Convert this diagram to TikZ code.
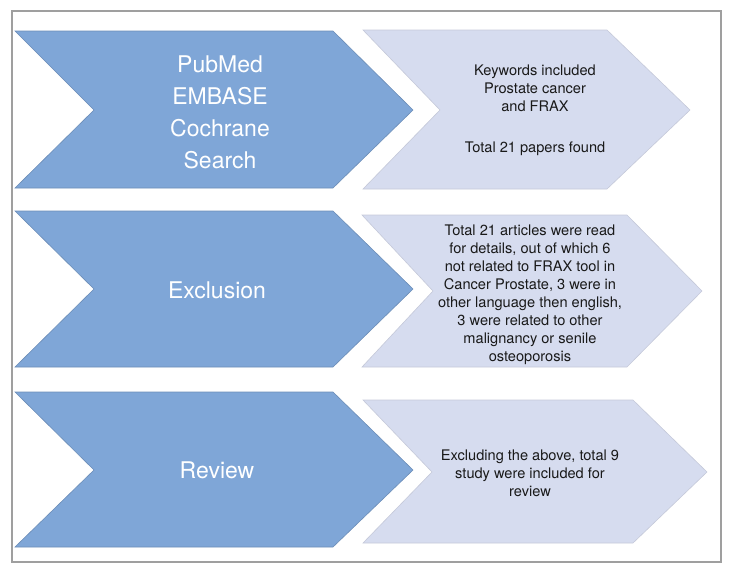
\documentclass[tikz,border=0pt]{standalone}
\usepackage{fontspec}
\setmainfont{TeX Gyre Heros}
\definecolor{stepblue}{HTML}{7FA6D7}
\definecolor{steplight}{HTML}{D6DCEF}
\tikzset{
  bigarrow/.style={fill=stepblue, draw=stepblue!85!black, line width=0.6pt, line join=miter},
  smallarrow/.style={fill=steplight, draw=steplight!80!gray, line width=0.6pt, line join=miter},
  titletext/.style={text=white, align=center, font=\fontsize{23}{32}\selectfont},
  infotext/.style={text=black!90, align=center, font=\fontsize{14.6}{18}\selectfont},
}
\begin{document}
\begin{tikzpicture}[x=1pt, y=-1pt]
    \useasboundingbox (0,0) rectangle (734,574);
    % Outer frame
    \draw[gray!75, line width=1.2pt] (12,11) rectangle (721,562);

    % Draw the big chevrons
    \draw[bigarrow] (15,31) -- (333,31) -- (413,110) -- (333,188) -- (15,188) -- (94,110) -- cycle;
    \draw[bigarrow] (15,211) -- (333,211) -- (413,289) -- (333,367) -- (15,367) -- (94,289) -- cycle;
    \draw[bigarrow] (15,392) -- (333,392) -- (413,470) -- (333,547) -- (15,547) -- (94,470) -- cycle;

    % Draw the light chevrons
    \draw[smallarrow] (363,30) -- (607,30) -- (690,110) -- (607,189) -- (363,189) -- (440,110) -- cycle;
    \draw[smallarrow] (362,215) -- (627,215) -- (702,291) -- (627,367) -- (362,367) -- (433,291) -- cycle;
    \draw[smallarrow] (363,400) -- (633,400) -- (707,472) -- (633,543) -- (363,543) -- (432,472) -- cycle;

    % Labels for the steps
    \node[titletext] (search) at (220,112) {PubMed\\EMBASE\\Cochrane\\Search};
    \node[titletext] (exclusion) at (217,290) {Exclusion};
    \node[titletext] (review) at (217,470) {Review};

    % Details of each step
    \node[infotext] (searchinfo) at (535,110) {Keywords included\\Prostate cancer\\and FRAX\\[23pt]Total 21 papers found};
    \node[infotext] (exclusioninfo) at (530,295) {Total 21 articles were read\\for details, out of which 6\\not related to FRAX tool in\\Cancer Prostate, 3 were in\\other language then english,\\3 were related to other\\malignancy or senile\\osteoporosis};
    \node[infotext] (reviewinfo) at (530,473) {Excluding the above, total 9\\study were included for\\review};
\end{tikzpicture}
\end{document}
